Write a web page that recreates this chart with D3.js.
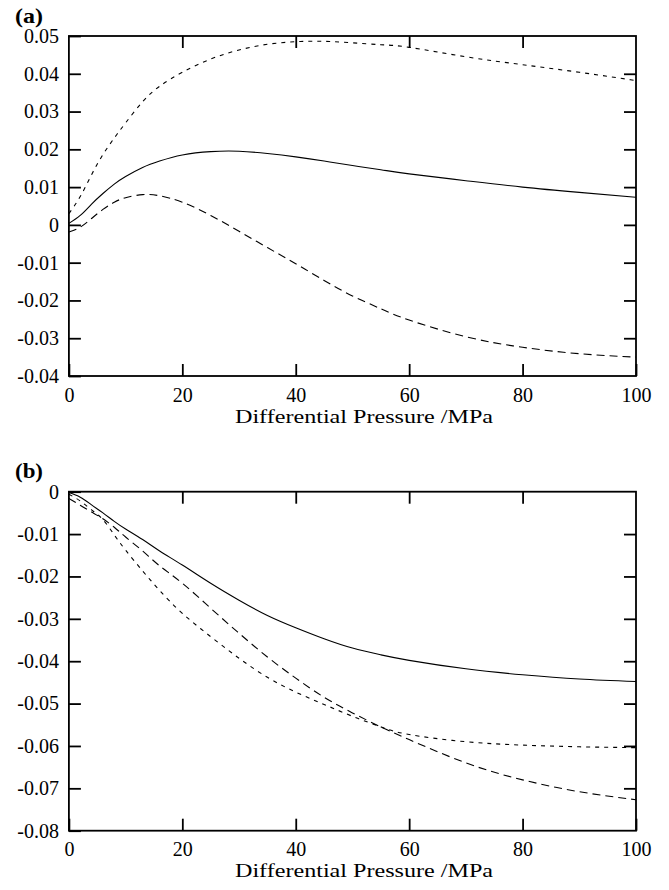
<!DOCTYPE html>
<html><head><meta charset="utf-8">
<script src="https://cdn.jsdelivr.net/npm/d3@7"></script>
<style>body{margin:0;background:#fff}svg text{font-family:'Liberation Serif','Times New Roman',Times,serif;fill:#000}</style>
</head><body><svg id="c" width="669" height="890"></svg>
<script>
// ---- data ----
const pressures = [0, 2, 4, 6, 8, 10, 13, 16, 20, 25, 30, 35, 40, 45, 50, 55, 60, 70, 80, 90, 100];
// panel (a)
const aSolid = [0.0004, 0.0025, 0.0055, 0.0083, 0.0108, 0.0128, 0.0152, 0.0169, 0.0185, 0.0194, 0.0195, 0.0189, 0.0180, 0.0169, 0.0157, 0.0146, 0.0135, 0.0117, 0.0100, 0.0086, 0.0073];
const aShort = [0.0030, 0.0075, 0.0133, 0.0186, 0.0230, 0.0270, 0.0326, 0.0367, 0.0404, 0.0439, 0.0463, 0.0478, 0.0485, 0.0486, 0.0482, 0.0477, 0.0470, 0.0445, 0.0424, 0.0404, 0.0382];
const aLong  = [-0.0019, -0.0006, 0.0017, 0.0041, 0.0060, 0.0072, 0.0080, 0.0077, 0.0060, 0.0025, -0.0017, -0.0060, -0.0103, -0.0147, -0.0188, -0.0222, -0.0252, -0.0296, -0.0324, -0.0341, -0.0350];
// panel (b)
const bSolid = [-0.0002, -0.0013, -0.0031, -0.0050, -0.0070, -0.0088, -0.0113, -0.0140, -0.0173, -0.0216, -0.0256, -0.0292, -0.0321, -0.0347, -0.0369, -0.0385, -0.0398, -0.0418, -0.0432, -0.0442, -0.0448];
const bShort = [-0.0006, -0.0022, -0.0043, -0.0066, -0.0102, -0.0138, -0.0187, -0.0233, -0.0287, -0.0342, -0.0393, -0.0438, -0.0473, -0.0502, -0.0530, -0.0555, -0.0573, -0.0590, -0.0598, -0.0602, -0.0604];
const bLong  = [-0.0016, -0.0032, -0.0048, -0.0064, -0.0084, -0.0107, -0.0140, -0.0175, -0.0216, -0.0275, -0.0334, -0.0390, -0.0440, -0.0485, -0.0522, -0.0555, -0.0585, -0.0640, -0.0680, -0.0708, -0.0727];
// ticks
const xTicks = [0, 20, 40, 60, 80, 100];
const xTickLabels = ["0", "20", "40", "60", "80", "100"];
const aYTicks = [-0.04, -0.03, -0.02, -0.01, 0, 0.01, 0.02, 0.03, 0.04, 0.05];
const aYTickLabels = ["-0.04", "-0.03", "-0.02", "-0.01", "0", "0.01", "0.02", "0.03", "0.04", "0.05"];
const bYTicks = [-0.08, -0.07, -0.06, -0.05, -0.04, -0.03, -0.02, -0.01, 0];
const bYTickLabels = ["-0.08", "-0.07", "-0.06", "-0.05", "-0.04", "-0.03", "-0.02", "-0.01", "0"];
const xTitle = "Differential Pressure /MPa";

const svg = d3.select("#c");
const L = 68.9, R = 636;
const FONT = "'Liberation Serif','Times New Roman',Times,serif";

function panel(cfg) {
  const x = d3.scaleLinear().domain([0, 100]).range([L, R]);
  const y = d3.scaleLinear().domain(cfg.yDomain).range([cfg.bottom, cfg.top]);
  const g = svg.append("g");
  const fs = 20;

  // curves
  const line = d3.line().x((d, i) => x(pressures[i])).y(d => y(d)).curve(d3.curveNatural);
  cfg.series.forEach(s => {
    g.append("path").attr("d", line(s.values)).attr("fill", "none")
      .attr("stroke", "#000").attr("stroke-width", 1.1)
      .attr("stroke-dasharray", s.dash);
  });

  const styleAxis = (sel) => {
    sel.attr("font-family", FONT);
    sel.select(".domain").remove();
    sel.selectAll(".tick line").attr("stroke", "#000").attr("stroke-width", 1.8);
    sel.selectAll(".tick text").attr("font-size", fs).attr("font-family", FONT).attr("fill", "#000");
  };
  // left axis
  g.append("g").attr("transform", `translate(${L},0)`)
    .call(d3.axisLeft(y).tickValues(cfg.yTicks).tickSize(-12).tickPadding(10)
      .tickFormat((d, i) => cfg.yLabels[i]))
    .call(styleAxis);
  // right axis (ticks only)
  g.append("g").attr("transform", `translate(${R},0)`)
    .call(d3.axisRight(y).tickValues(cfg.yTicks.slice(1, -1)).tickSize(-12).tickFormat(""))
    .call(styleAxis);
  // bottom axis
  g.append("g").attr("transform", `translate(0,${cfg.bottom})`)
    .call(d3.axisBottom(x).tickValues(xTicks).tickSize(-12).tickPadding(11.5)
      .tickFormat((d, i) => xTickLabels[i]))
    .call(styleAxis);
  // top axis (ticks only)
  g.append("g").attr("transform", `translate(0,${cfg.top})`)
    .call(d3.axisTop(x).tickValues(xTicks.slice(1, -1)).tickSize(-12).tickFormat(""))
    .call(styleAxis);

  // frame
  g.append("rect").attr("x", L).attr("y", cfg.top).attr("width", R - L).attr("height", cfg.bottom - cfg.top)
    .attr("fill", "none").attr("stroke", "#000").attr("stroke-width", 1.8);

  // x title
  g.append("text").attr("x", 364).attr("y", cfg.bottom + 46.5).attr("text-anchor", "middle")
    .attr("font-family", FONT).attr("font-size", 18).attr("textLength", 258).attr("lengthAdjust", "spacingAndGlyphs")
    .text(xTitle);
  // panel letter
  g.append("text").attr("x", 15).attr("y", cfg.letterY).attr("font-family", FONT).attr("font-size", 21).attr("font-weight", "bold")
    .attr("textLength", 28).attr("lengthAdjust", "spacingAndGlyphs")
    .text(cfg.letter);
}

panel({
  top: 36, bottom: 376, yDomain: [-0.04, 0.05], yTicks: aYTicks, yLabels: aYTickLabels,
  letter: "(a)", letterY: 23,
  series: [
    { values: aSolid, dash: null },
    { values: aShort, dash: "4,5" },
    { values: aLong, dash: "8,5" }
  ]
});
panel({
  top: 491.7, bottom: 830.7, yDomain: [-0.08, 0], yTicks: bYTicks, yLabels: bYTickLabels,
  letter: "(b)", letterY: 478,
  series: [
    { values: bSolid, dash: null },
    { values: bShort, dash: "4,5" },
    { values: bLong, dash: "8,5" }
  ]
});
</script></body></html>
